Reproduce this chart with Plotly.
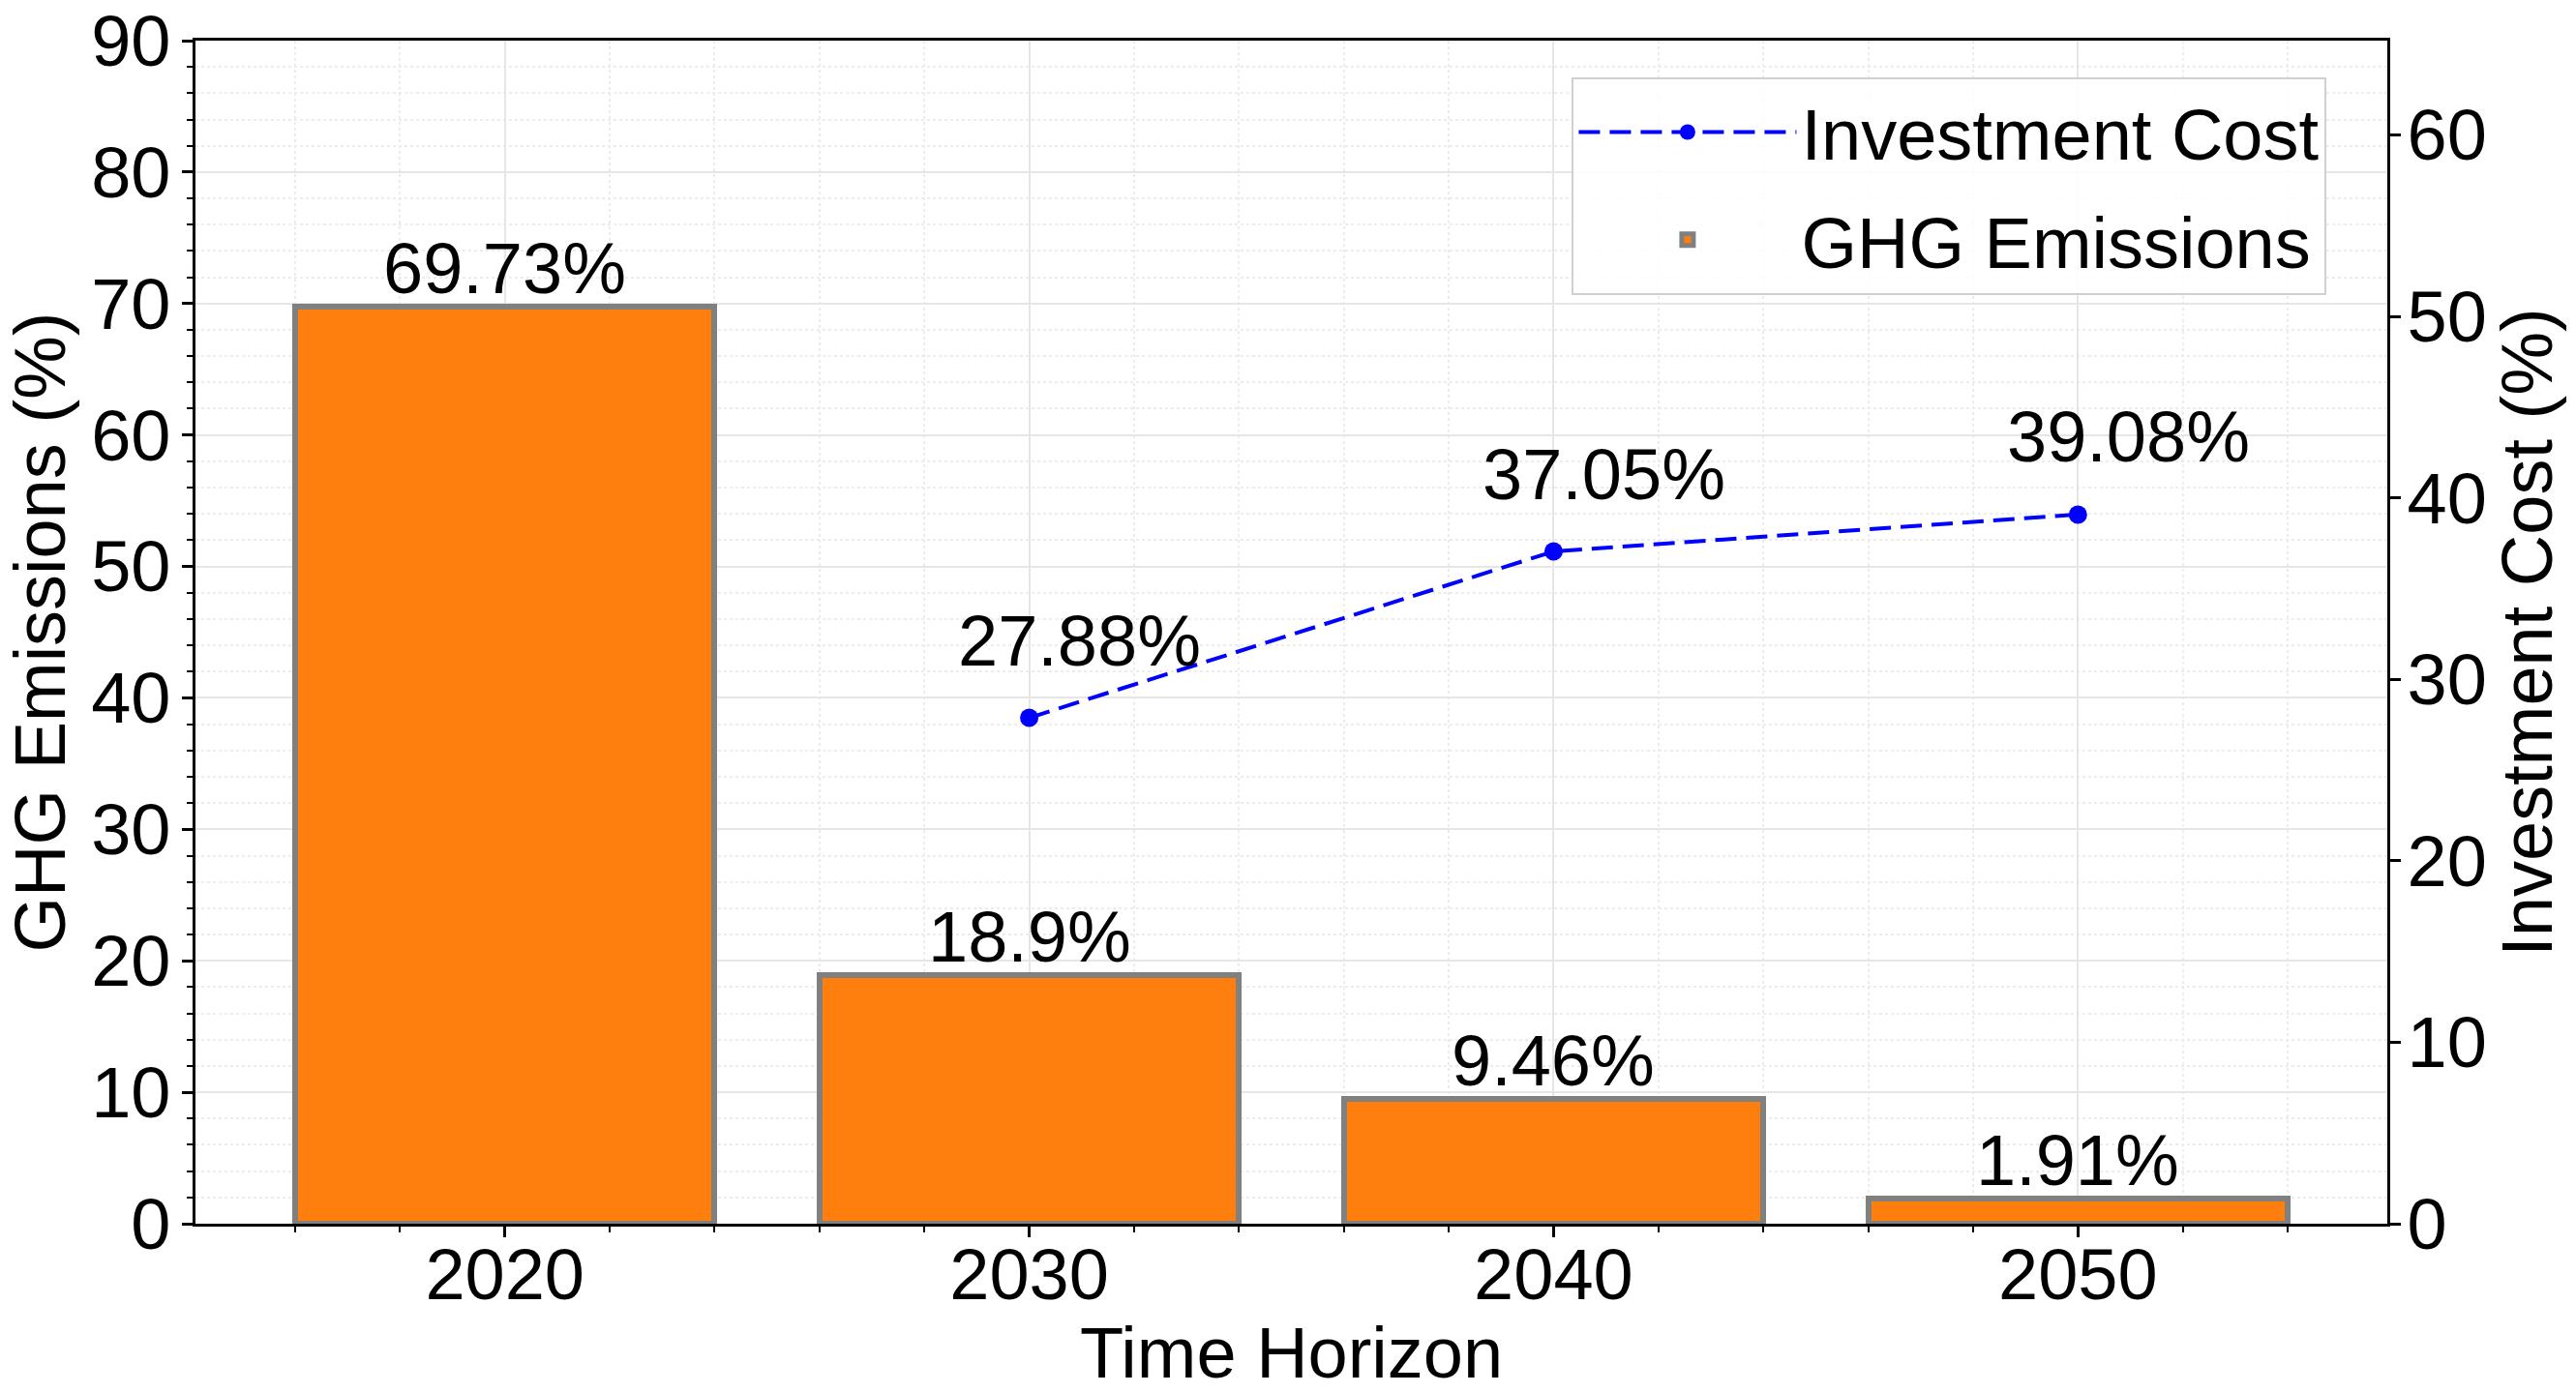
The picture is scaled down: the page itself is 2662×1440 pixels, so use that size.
import plotly.graph_objects as go

years = [2020, 2030, 2040, 2050]
ghg_emissions = [69.73, 18.9, 9.46, 1.91]
inv_years = [2030, 2040, 2050]
investment_cost = [27.88, 37.05, 39.08]

FONT = "Liberation Sans, Arial, sans-serif"
FS = 74
W, H = 2662, 1440

fig = go.Figure()

fig.add_trace(go.Bar(
    x=years, y=ghg_emissions, width=8, name="GHG Emissions",
    marker=dict(color="#ff7f0e", line=dict(color="#808080", width=6)),
    yaxis="y", legendrank=2, legendgroup="b",
))
fig.add_trace(go.Scatter(
    x=inv_years, y=investment_cost, name="Investment Cost",
    mode="lines+markers", yaxis="y2",
    line=dict(color="#0000ff", width=4, dash="22px,10px"),
    marker=dict(color="#0000ff", size=19),
    legendrank=1, legendgroup="a",
))

ann = []
for x, v in zip(years, ghg_emissions):
    ann.append(dict(x=x, y=v, xref="x", yref="y", text=f"{v}%", showarrow=False,
                    yanchor="middle", yshift=40, font=dict(size=FS, color="black", family=FONT)))
for x, v in zip(inv_years, investment_cost):
    ann.append(dict(x=x, y=v, xref="x", yref="y2", text=f"{v}%", showarrow=False,
                    yanchor="middle", xshift=52, yshift=80, font=dict(size=FS, color="black", family=FONT)))

tickfont = dict(size=FS, color="black", family=FONT)
fig.update_layout(
    width=W, height=H, autosize=False,
    margin=dict(l=202, r=195, t=42, b=175),
    paper_bgcolor="white", plot_bgcolor="white",
    font=dict(family=FONT, size=FS, color="black"),
    bargap=0,
    annotations=ann,
    showlegend=True,
    legend=dict(x=0.628, y=0.969, xanchor="left", yanchor="top",
                bgcolor="rgba(255,255,255,0.85)", bordercolor="#d0d0d0", borderwidth=2,
                font=dict(size=FS, color="black", family=FONT), itemwidth=225,
                tracegroupgap=12),
    xaxis=dict(
        range=[2014.1, 2055.9], tickvals=years, ticktext=[str(y) for y in years],
        tickfont=tickfont, ticks="outside", ticklen=11, tickwidth=2.5, tickcolor="black",
        ticklabelstandoff=-25, automargin=False,
        showline=True, linecolor="black", linewidth=2.5, mirror=True,
        showgrid=True, gridcolor="#e6e6e6", gridwidth=2,
        zeroline=False,
        minor=dict(dtick=2, tick0=2020, ticks="outside", ticklen=6, tickwidth=2, tickcolor="black",
                   showgrid=True, gridcolor="#ececec", gridwidth=1.5, griddash="dot"),
        title=dict(text="Time Horizon", font=dict(size=FS, color="black", family=FONT), standoff=0),
    ),
    yaxis=dict(
        range=[0, 90], dtick=10, tick0=0, automargin=False,
        tickfont=tickfont, ticks="outside", ticklen=11, tickwidth=2.5, tickcolor="black",
        ticklabelstandoff=-3, ticklabeloverflow="allow",
        showline=True, linecolor="black", linewidth=2.5, mirror=True,
        showgrid=True, gridcolor="#e6e6e6", gridwidth=2, zeroline=False,
        minor=dict(dtick=2, tick0=0, ticks="outside", ticklen=6, tickwidth=2, tickcolor="black",
                   showgrid=True, gridcolor="#ececec", gridwidth=1.5, griddash="dot"),
        title=dict(text="GHG Emissions (%)", font=dict(size=FS, color="black", family=FONT), standoff=18),
    ),
    yaxis2=dict(
        overlaying="y", side="right", range=[0, 65.2], dtick=10, tick0=0, automargin=False,
        tickfont=tickfont, ticks="outside", ticklen=11, tickwidth=2.5, tickcolor="black",
        ticklabelstandoff=-8, ticklabeloverflow="allow",
        showline=True, linecolor="black", linewidth=2.5,
        showgrid=False, zeroline=False,
        title=dict(text="Investment Cost (%)", font=dict(size=FS, color="black", family=FONT), standoff=0),
    ),
)

fig.write_html("out.html", config={"displayModeBar": False},
               post_script="document.body.style.margin='0px';")
